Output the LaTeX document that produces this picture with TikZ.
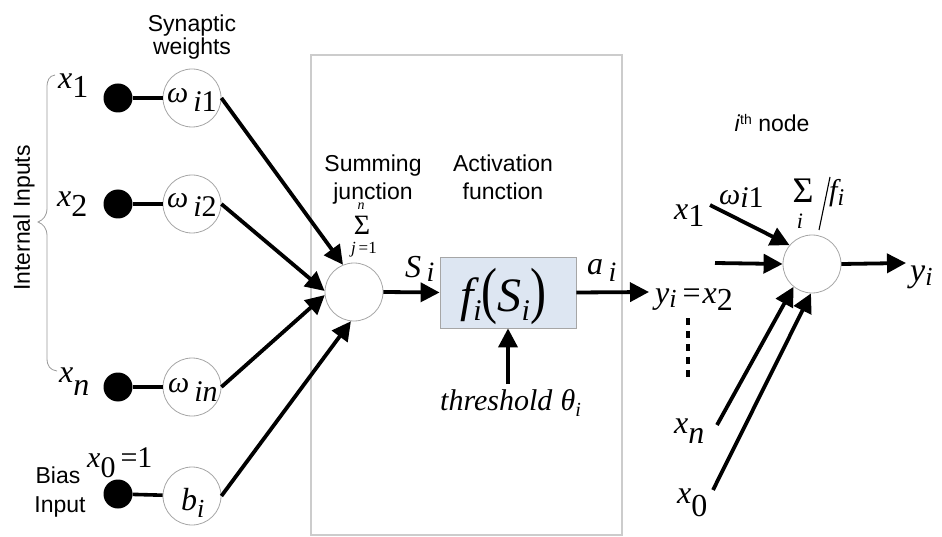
\documentclass[tikz,border=0pt]{standalone}
\usepackage{fontspec}
\setmainfont{Liberation Sans}
\newfontfamily\tms{Liberation Serif}
\usetikzlibrary{arrows.meta}
% italic serif letter, lowered index, font size helper
\newcommand\mi[1]{{\tms\itshape #1}}
\newcommand\up[1]{{\tms #1}}
\newcommand\dn[2][8pt]{\raisebox{-#1}{#2}}
\newcommand\fs[1]{\fontsize{#1}{#1}\selectfont}

\begin{document}
\begin{tikzpicture}[x=1pt,y=-1pt,
  wcirc/.style={circle, draw=black!35, line width=0.8pt, fill=white, minimum size=58pt, inner sep=0pt},
  blob/.style={circle, fill=black, minimum size=29pt, inner sep=0pt},
  conn/.style={line width=3.6pt},
  arr/.style={line width=3.8pt, -{Triangle[length=19pt,width=19pt]}},
  sanslab/.style={font=\fs{23}, inner sep=0pt, anchor=base},
  mlab/.style={font=\fs{32}, inner sep=0pt, anchor=base west},
  wlab/.style={font=\fs{30}, inner sep=0pt, anchor=base west},
  brace/.style={draw=black!40, line width=0.8pt},
]
\useasboundingbox (0,0) rectangle (942,537);

% central frame
\node[draw=black!20, line width=1.3pt, minimum width=311pt, minimum height=480pt, inner sep=0pt] (frame) at (466.5,295) {};

% ---- inputs and synaptic weights
\node[sanslab] (syn1) at (192,32) {Synaptic};
\node[sanslab] (syn2) at (192,55) {weights};

\node[blob] (d1) at (118,98) {};
\node[blob] (d2) at (118,204) {};
\node[blob] (dn) at (118,387) {};
\node[blob] (db) at (118,494) {};

\node[wcirc] (w1) at (192,98) {};
\node[wcirc] (w2) at (192,204) {};
\node[wcirc] (wn) at (192,387) {};
\node[wcirc] (wb) at (192,496) {};

\draw[conn] (d1) -- (w1);
\draw[conn] (d2) -- (w2);
\draw[conn] (dn) -- (wn);
\draw[conn] (db) -- (wb);

\node[mlab] (lx1) at (58,89) {\mi{x}\dn[9pt]{\up{1}}};
\node[mlab] (lx2) at (57,207) {\mi{x}\dn[10pt]{\up{2}}};
\node[mlab] (lxn) at (59,382) {\mi{x}\dn[13pt]{\mi{n}}};
\node[font=\fs{30}, inner sep=0pt, anchor=base west] (lx0) at (87,467) {\mi{x}\dn[10pt]{\up{0}}\,\up{=1}};

\node[wlab] (lw1) at (167,103) {\mi{ω}\,\dn[9pt]{\mi{i}\up{1}}};
\node[wlab] (lw2) at (167,208) {\mi{ω}\,\dn[9pt]{\mi{i}\up{2}}};
\node[wlab] (lwn) at (168,392) {\mi{ω}\,\dn[9pt]{\mi{in}}};
\node[mlab] (lb) at (181,510) {\mi{b}\dn[7pt]{\fs{26}\mi{i}}};

\node[sanslab] (bias1) at (58,483) {Bias};
\node[sanslab] (bias2) at (60,512) {Input};

% brace grouping the internal inputs
\draw[brace] (55,75) .. controls (49,76) and (47,80) .. (47,88) -- (47,208)
  .. controls (47,216) and (43,220) .. (38,222)
  .. controls (43,224) and (47,228) .. (47,236) -- (47,358)
  .. controls (47,366) and (50,370) .. (57,371);
\node[font=\fs{23}, inner sep=0pt, rotate=90] (intin) at (24,218) {Internal Inputs};

% ---- summing junction
\node[sanslab] (sum1) at (373,172) {Summing};
\node[sanslab] (sum2) at (373,200) {junction};
\node[wcirc] (sum) at (354,292) {};
\node[font=\fs{14}, inner sep=0pt] (sigN) at (361,206) {\mi{n}};
\node[font=\fs{28}, inner sep=0pt, text height=18pt, text depth=0pt] (sig) at (362,226) {\up{Σ}};
\node[font=\fs{17}, inner sep=0pt] (sigJ) at (364,250) {\mi{j}\,\up{=1}};

\draw[arr] (w1.east) -- (sum.112);
\draw[arr] (w2.east) -- (sum.178);
\draw[arr] (wn.east) -- (sum.186);
\draw[arr] (wb.east) -- (sum.264);

% ---- activation function
\node[sanslab] (act1) at (503,172) {Activation};
\node[sanslab] (act2) at (503,200) {function};
\node[draw=black!35, line width=0.8pt, fill={rgb,255:red,221;green,230;blue,242},
      minimum width=136pt, minimum height=71pt, inner sep=0pt] (act) at (508,292.5) {};
\node[font=\fs{48}, inner sep=0pt, anchor=base] (lf) at (503,312)
  {\mi{f}\dn[9pt]{\fs{30}\mi{i}}\scalebox{1}[1.3]{\up{(}}\mi{S}\dn[9pt]{\fs{30}\mi{i}}\scalebox{1}[1.3]{\up{)}}};

\node[mlab] (lS) at (405,277) {\mi{S}\,\dn[4pt]{\fs{28}\mi{i}}};
\draw[arr] (sum.east) -- (act.west);

\node[wlab] (lth) at (440,410) {\mi{threshold}~\mi{θ}\dn[6pt]{\fs{20}\mi{i}}};
\coordinate (thS) at (508,384);
\draw[arr] (thS) -- (act.south);

\node[mlab] (la) at (587,275) {\mi{a}\,\dn[7pt]{\fs{28}\mi{i}}};
\coordinate (aout) at (649,292);
\draw[arr] (act.east) -- (aout);

% ---- i-th node
\node[sanslab] (ith) at (772,132) {\textit{i}\raisebox{7pt}{\fs{14}th} node};
\node[wcirc] (rn) at (812,264) {};

\node[mlab] (ryx) at (655,303) {\mi{y}\dn[5pt]{\fs{26}\mi{i}}\hspace{6pt}\up{=}\hspace{2pt}\mi{x}\dn[7pt]{\up{2}}};
\node[mlab] (rx1) at (674,220) {\mi{x}\dn[7pt]{\up{1}}};
\node[wlab] (rw1) at (719,205) {\mi{ω}\dn[3pt]{\mi{i}\up{1}}};
\node[font=\fs{36}, inner sep=0pt] (rsig) at (803,191) {\up{Σ}};
\node[font=\fs{22}, inner sep=0pt] (rsigi) at (800,221) {\mi{i}};
\coordinate (sl1) at (830,177);
\coordinate (sl2) at (819,230);
\draw[line width=1.1pt] (sl1) -- (sl2);
\node[wlab] (rf) at (829,201) {\mi{f}\dn[5pt]{\fs{24}\mi{i}}};
\node[mlab] (rxn) at (674,433) {\mi{x}\dn[10pt]{\mi{n}}};
\node[mlab] (rx0) at (677,503) {\mi{x}\dn[13pt]{\up{0}}};
\node[font=\fs{34}, inner sep=0pt, anchor=base west] (ryo) at (910,282) {\mi{y}\dn[4pt]{\fs{26}\mi{i}}};

\coordinate (a1s) at (710,205);
\coordinate (a2s) at (715,263);
\coordinate (a3s) at (717,425);
\coordinate (a4s) at (713,490);
\coordinate (yend) at (906,263);
\draw[arr] (a1s) -- (rn.140);
\draw[arr] (a2s) -- (rn.west);
\draw[arr] (a3s) -- (rn.231);
\draw[arr] (a4s) -- (rn.268);
\draw[arr] (rn.east) -- (yend);

% dotted continuation between inputs
\coordinate (dt1) at (688,318);
\coordinate (dt2) at (688,378);
\draw[line width=4pt, dash pattern=on 7pt off 6pt] (dt1) -- (dt2);
\end{tikzpicture}
\end{document}
